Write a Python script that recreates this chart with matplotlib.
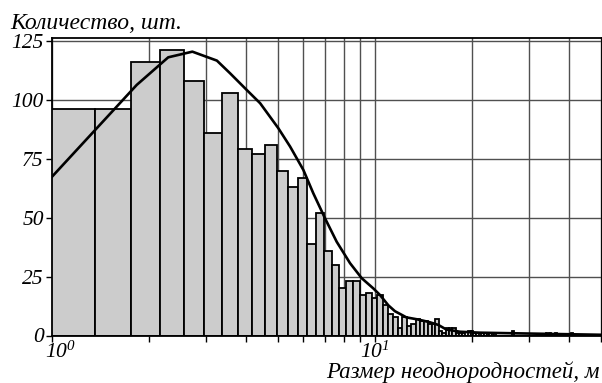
import numpy as np
import matplotlib
matplotlib.use('Agg')
import matplotlib.pyplot as plt
import matplotlib.transforms as mtransforms
from matplotlib.ticker import FixedLocator, NullFormatter

plt.rcParams['font.family'] = 'Liberation Serif'
plt.rcParams['font.style'] = 'italic'
plt.rcParams['mathtext.fontset'] = 'custom'
plt.rcParams['mathtext.rm'] = 'Liberation Serif:italic'
plt.rcParams['mathtext.it'] = 'Liberation Serif:italic'

# histogram: bins of 0.4 m starting at 0.96 m
bin_start = 0.96
bin_width = 0.4
counts = [96, 96, 116, 121, 108, 86, 103, 79, 77, 81,
          70, 63, 67, 39, 52, 36, 30, 20, 23, 23,
          17, 18, 16, 17, 13, 9, 8, 3, 8, 4,
          5, 7, 6, 6, 5, 5, 7, 2, 1, 3,
          3, 3, 1, 1, 1, 0, 2, 2, 1, 1,
          0, 1, 1, 1, 1, 1, 1, 0, 0, 0,
          0, 0, 0, 0, 2, 0, 0, 0, 0, 0,
          0, 0, 0, 0, 0, 0, 0, 0, 0, 0,
          0, 0, 1, 0, 1, 0, 0, 0, 1, 0,
          0, 0, 0, 0, 0, 0, 0, 0, 0, 1,
          0, 0, 0, 0, 0, 0, 0, 0, 0, 0,
          0, 0, 0, 0, 0, 0, 0, 0, 0, 0,
          0, 0, 0, 0]

# fitted distribution curve
curve_x = [1.0, 1.83, 2.29, 2.72, 3.24, 3.56, 4.01, 4.41, 5.02, 5.46,
           6.0, 6.44, 7.0, 7.61, 8.37, 9.1, 9.88, 10.36, 11.0, 11.53,
           12.24, 12.5, 13.46, 14.1, 14.8, 15.7, 16.6, 17.07, 18.33, 21.1,
           28.0, 37.4, 50.5]
curve_y = [67.4, 106.4, 118.1, 120.5, 116.7, 111.3, 104.2, 98.6, 88.0, 80.2,
           70.3, 60.4, 49.8, 39.8, 30.7, 24.3, 20.0, 17.2, 12.8, 10.3,
           8.4, 7.7, 6.9, 6.3, 5.6, 4.5, 2.6, 2.3, 1.6, 1.2,
           0.9, 0.6, 0.3]

y_ticks = [0, 25, 50, 75, 100, 125]

edges = bin_start + bin_width * np.arange(len(counts))

fig = plt.figure(figsize=(6.02, 3.83), dpi=100)
ax = fig.add_axes([52 / 602, 47.5 / 383, 550 / 602, 297.5 / 383])
ax.set_axisbelow(True)

ax.bar(edges, counts, width=bin_width, align='edge', color='#cccccc',
       edgecolor='black', linewidth=1.3, zorder=2)
ax.plot(curve_x, curve_y, color='black', linewidth=1.9, zorder=3)

ax.set_xscale('log')
ax.set_xlim(1, 10 ** (550 / 323))
ax.set_ylim(0, 126.3)

ax.xaxis.set_major_locator(FixedLocator([1, 10]))
ax.xaxis.set_minor_locator(FixedLocator([2, 3, 4, 5, 6, 7, 8, 9, 20, 30, 40, 50]))
ax.xaxis.set_minor_formatter(NullFormatter())
ax.set_xticklabels([r'$10^{0}$', r'$10^{1}$'])
ax.set_yticks(y_ticks)
ax.set_yticklabels([str(v) for v in y_ticks])

ax.grid(True, which='both', axis='x', color='#505050', linewidth=1.0)
ax.grid(True, which='major', axis='y', color='#505050', linewidth=1.0)

ax.tick_params(axis='both', which='both', direction='out', length=4, width=1.0,
               labelsize=15.5, pad=2)
ax.tick_params(axis='x', which='major', pad=0.5)
for sp in ax.spines.values():
    sp.set_linewidth(1.3)
    sp.set_color('black')

# keep the first decade label inside the figure
lbl0 = ax.get_xticklabels()[0]
lbl0.set_horizontalalignment('left')
lbl0.set_transform(lbl0.get_transform() +
                   mtransforms.ScaledTranslation(-7 / 100, 0, fig.dpi_scale_trans))

fig.text(10 / 602, 1 - 29 / 383, 'Количество, шт.', fontsize=17,
         ha='left', va='baseline')
fig.text(600 / 602, 1 - 378 / 383, 'Размер неоднородностей, м', fontsize=16.5,
         ha='right', va='baseline')

fig.savefig('out.png', dpi=100)
